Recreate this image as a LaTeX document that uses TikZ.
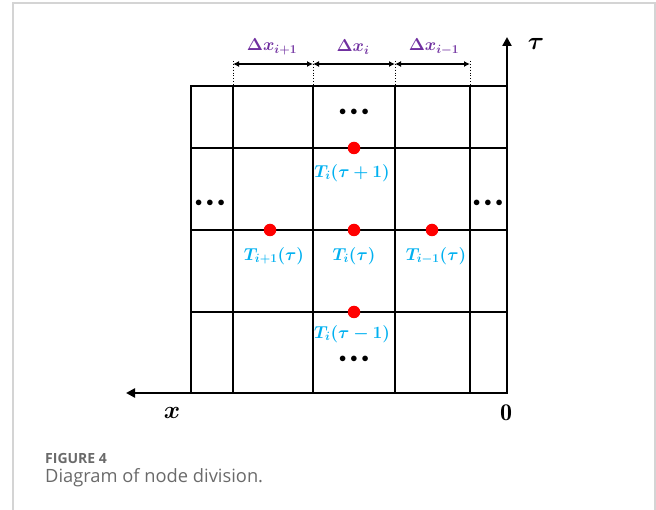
\documentclass[tikz,border=0pt]{standalone}
\usepackage{amsmath}
\usepackage{bm}
\usepackage{fontspec}
\newfontfamily\capfont{Open Sans}
\usetikzlibrary{arrows.meta}
\definecolor{framegray}{HTML}{D4D4D4}
\definecolor{dimpurple}{HTML}{7030A0}
\definecolor{labblue}{HTML}{00B0F0}
\definecolor{capgray}{HTML}{6A6A6A}
\newcommand{\threedots}{\mathord{\bullet}\mkern5mu\mathord{\bullet}\mkern5mu\mathord{\bullet}}
\tikzset{
  gridline/.style={line width=2.8pt, line cap=rect},
  axisline/.style={line width=2.9pt, -{Triangle[length=9pt,width=9pt]}},
  dimline/.style={line width=1.2pt, {Latex[length=6pt,width=6pt]}-{Latex[length=6pt,width=6pt]}},
  dimtick/.style={line width=0.9pt, dotted},
  dimlab/.style={text=dimpurple, font=\fontsize{16.5}{18}\selectfont, inner sep=0pt},
  tlab/.style={text=labblue, font=\fontsize{18.5}{20}\selectfont, inner sep=0pt},
  rdot/.style={circle, fill=red, minimum size=12.5pt, inner sep=0pt},
  ellip/.style={font=\fontsize{15}{15}\selectfont, inner sep=0pt},
  axlab/.style={font=\fontsize{24}{26}\selectfont, inner sep=0pt},
  captext/.style={anchor=base west, inner sep=0pt, text=capgray},
}
\begin{document}
\begin{tikzpicture}[x=1pt,y=-1pt]
\useasboundingbox (0,0) rectangle (656,510);
% frame
\draw[framegray, line width=1.2pt] (13,510) -- (13,3) -- (655,3) -- (655,510);
% grid coordinates
\coordinate (atop) at (191,86); \coordinate (abot) at (191,393);
\coordinate (btop) at (233,86); \coordinate (bbot) at (233,393);
\coordinate (ctop) at (313,86); \coordinate (cbot) at (313,393);
\coordinate (dtop) at (395,86); \coordinate (dbot) at (395,393);
\coordinate (etop) at (470,86); \coordinate (ebot) at (470,393);
\coordinate (fbot) at (507,393);
\coordinate (bdim) at (233,61); \coordinate (cdim) at (313,61);
\coordinate (ddim) at (395,61); \coordinate (edim) at (470,61);
\coordinate (r1l) at (191,86);  \coordinate (r1r) at (507,86);
\coordinate (r2l) at (191,148); \coordinate (r2r) at (507,148);
\coordinate (r3l) at (191,230); \coordinate (r3r) at (507,230);
\coordinate (r4l) at (191,312); \coordinate (r4r) at (507,312);
\coordinate (r5l) at (191,393); \coordinate (r5r) at (507,393);
% grid
\foreach \n in {a,b,c,d,e}{ \draw[gridline] (\n top) -- (\n bot); }
\foreach \n in {r1,r2,r3,r4,r5}{ \draw[gridline] (\n l) -- (\n r); }
% axes
\coordinate (tautip) at (507,37);
\coordinate (xstart) at (270,393);
\coordinate (xtip) at (126,393);
\draw[axisline] (fbot) -- (tautip);
\draw[axisline] (xstart) -- (xtip);
\node[axlab] (taulab) at (536,44) {$\bm{\tau}$};
\node[axlab] (xlab) at (172,413) {$\bm{x}$};
\node[axlab] (zero) at (506,413) {$\mathbf{0}$};
% dimension lines
\foreach \n in {b,c,d,e}{ \draw[dimtick] (\n dim) -- (\n top); }
\coordinate (bL) at (233,64); \coordinate (cL) at (313,64);
\coordinate (dL) at (395,64); \coordinate (eL) at (470,64);
\draw[dimline] (bL) -- (cL);
\draw[dimline] (cL) -- (dL);
\draw[dimline] (dL) -- (eL);
\node[dimlab] (dx1) at (272,47) {$\bm{\Delta x_{i+1}}$};
\node[dimlab] (dx2) at (353,47) {$\bm{\Delta x_{i}}$};
\node[dimlab] (dx3) at (434,47) {$\bm{\Delta x_{i-1}}$};
% red nodes
\node[rdot] (pL) at (270,230) {};
\node[rdot] (pC) at (354,230) {};
\node[rdot] (pR) at (432,230) {};
\node[rdot] (pU) at (354,148) {};
\node[rdot] (pD) at (354,312) {};
% labels
\node[tlab] (lL) at (274,256) {$\bm{T_{i+1}(\tau)}$};
\node[tlab] (lC) at (354,256) {$\bm{T_{i}(\tau)}$};
\node[tlab] (lR) at (436,256) {$\bm{T_{i-1}(\tau)}$};
\node[tlab] (lU) at (352,173) {$\bm{T_{i}(\tau+1)}$};
\node[tlab] (lD) at (352,334) {$\bm{T_{i}(\tau-1)}$};
% ellipses
\node[ellip] (e1) at (354,112) {$\threedots$};
\node[ellip] (e2) at (210,203) {$\threedots$};
\node[ellip] (e3) at (488,203) {$\threedots$};
\node[ellip] (e4) at (354,359) {$\threedots$};
% caption
\node[captext, font=\capfont\fontsize{14}{16}\selectfont\bfseries] (fig) at (45,463) {FIGURE 4};
\node[captext, font=\capfont\fontsize{18.3}{20}\selectfont] (cap) at (45,482) {Diagram of node division.};
\end{tikzpicture}
\end{document}
